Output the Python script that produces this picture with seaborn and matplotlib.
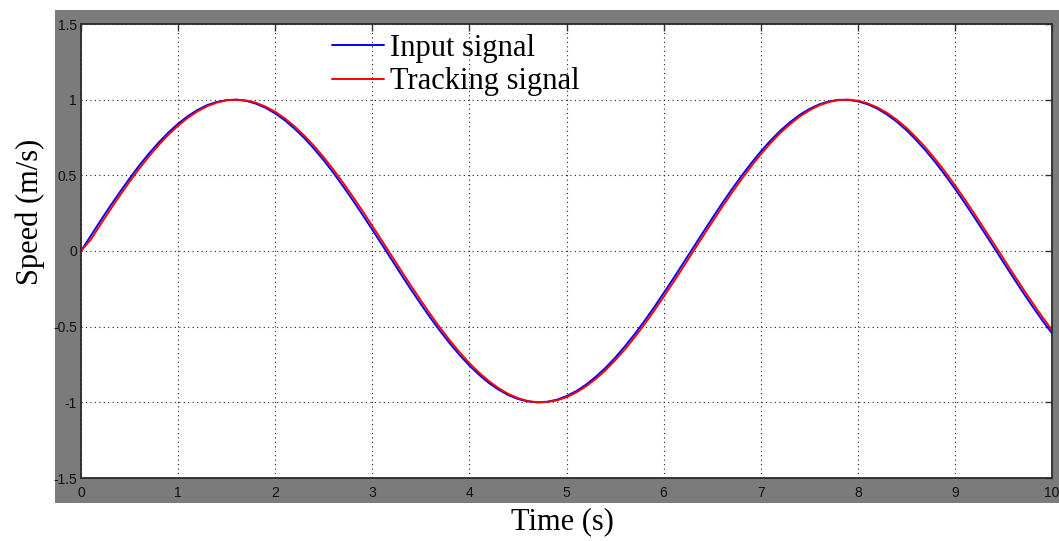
import matplotlib
matplotlib.use("Agg")
import matplotlib.pyplot as plt
from matplotlib.patches import Rectangle
import pandas as pd
import seaborn as sns

# time axis (s) and the two signals
time_s = [0.0, 0.1, 0.2, 0.3, 0.4, 0.5, 0.6, 0.7, 0.8, 0.9,
          1.0, 1.1, 1.2, 1.3, 1.4, 1.5, 1.6, 1.7, 1.8, 1.9,
          2.0, 2.1, 2.2, 2.3, 2.4, 2.5, 2.6, 2.7, 2.8, 2.9,
          3.0, 3.1, 3.2, 3.3, 3.4, 3.5, 3.6, 3.7, 3.8, 3.9,
          4.0, 4.1, 4.2, 4.3, 4.4, 4.5, 4.6, 4.7, 4.8, 4.9,
          5.0, 5.1, 5.2, 5.3, 5.4, 5.5, 5.6, 5.7, 5.8, 5.9,
          6.0, 6.1, 6.2, 6.3, 6.4, 6.5, 6.6, 6.7, 6.8, 6.9,
          7.0, 7.1, 7.2, 7.3, 7.4, 7.5, 7.6, 7.7, 7.8, 7.9,
          8.0, 8.1, 8.2, 8.3, 8.4, 8.5, 8.6, 8.7, 8.8, 8.9,
          9.0, 9.1, 9.2, 9.3, 9.4, 9.5, 9.6, 9.7, 9.8, 9.9, 10.0]
input_signal = [0.000, 0.100, 0.199, 0.296, 0.389, 0.479, 0.565, 0.644, 0.717, 0.783,
                0.841, 0.891, 0.932, 0.964, 0.985, 0.997, 1.000, 0.992, 0.974, 0.946,
                0.909, 0.863, 0.808, 0.746, 0.676, 0.599, 0.516, 0.427, 0.335, 0.239,
                0.141, 0.042, -0.058, -0.158, -0.256, -0.351, -0.443, -0.530, -0.612, -0.688,
                -0.757, -0.818, -0.872, -0.916, -0.952, -0.978, -0.994, -1.000, -0.996, -0.983,
                -0.959, -0.926, -0.884, -0.832, -0.773, -0.706, -0.631, -0.551, -0.465, -0.374,
                -0.279, -0.182, -0.083, 0.017, 0.117, 0.215, 0.312, 0.405, 0.494, 0.578,
                0.657, 0.729, 0.794, 0.850, 0.899, 0.938, 0.968, 0.988, 0.999, 0.999,
                0.989, 0.970, 0.941, 0.902, 0.855, 0.799, 0.734, 0.663, 0.585, 0.501,
                0.412, 0.319, 0.223, 0.125, 0.025, -0.075, -0.174, -0.272, -0.367, -0.458, -0.544]
tracking_signal = [0.000, 0.075, 0.174, 0.272, 0.366, 0.458, 0.544, 0.625, 0.700, 0.768,
                   0.828, 0.880, 0.923, 0.957, 0.981, 0.996, 1.000, 0.995, 0.980, 0.954,
                   0.920, 0.876, 0.823, 0.762, 0.694, 0.619, 0.537, 0.450, 0.359, 0.264,
                   0.166, 0.067, -0.033, -0.133, -0.231, -0.327, -0.420, -0.509, -0.592, -0.670,
                   -0.741, -0.804, -0.859, -0.906, -0.944, -0.972, -0.991, -1.000, -0.998, -0.987,
                   -0.966, -0.935, -0.895, -0.846, -0.789, -0.723, -0.651, -0.572, -0.487, -0.397,
                   -0.303, -0.207, -0.108, -0.008, 0.092, 0.191, 0.288, 0.382, 0.472, 0.558,
                   0.638, 0.712, 0.779, 0.837, 0.888, 0.929, 0.962, 0.984, 0.997, 1.000,
                   0.993, 0.976, 0.949, 0.913, 0.868, 0.814, 0.751, 0.682, 0.605, 0.523,
                   0.435, 0.343, 0.247, 0.149, 0.050, -0.050, -0.150, -0.248, -0.343, -0.435, -0.523]

x_ticks = [0, 1, 2, 3, 4, 5, 6, 7, 8, 9, 10]
y_ticks = [-1.5, -1, -0.5, 0, 0.5, 1, 1.5]
y_tick_labels = ["-1.5", "-1", "-0.5", "0", "0.5", "1", "1.5"]

sns.set_style("white")
plt.rcParams["font.family"] = ["Liberation Sans", "DejaVu Sans"]
plt.rcParams["text.color"] = "black"

df = pd.DataFrame({
    "t": time_s,
    "input": input_signal,
    "tracking": tracking_signal,
})

fig = plt.figure(figsize=(10.59, 5.41), dpi=100)
fig.patch.set_facecolor("white")

# grey scope frame behind the axes
fig.patches.append(Rectangle((55 / 1059, 1 - 503 / 541), 1.0, (503 - 10) / 541,
                             transform=fig.transFigure, facecolor="#7b7b7b",
                             edgecolor="none", zorder=-10))

ax = fig.add_axes([81 / 1059, 1 - 478 / 541, (1052 - 81) / 1059, (478 - 24) / 541])
ax.set_zorder(1)
ax.set_facecolor("white")

sns.lineplot(data=df, x="t", y="input", color="#0000ff", linewidth=1.4,
             label="Input signal", ax=ax)
sns.lineplot(data=df, x="t", y="tracking", color="#ff0000", linewidth=1.4,
             label="Tracking signal", ax=ax)

ax.set_xlim(0, 10)
ax.set_ylim(-1.5, 1.5)
ax.set_xticks(x_ticks)
ax.set_xticklabels([str(v) for v in x_ticks])
ax.set_yticks(y_ticks)
ax.set_yticklabels(y_tick_labels)
ax.tick_params(direction="in", length=5, width=1, color="#333333",
               labelsize=10, labelcolor="#111111", pad=3,
               top=True, right=True)
ax.tick_params(axis="x", pad=6)
ax.grid(True, linestyle=(0, (1, 3)), color="#222222", linewidth=0.8)

for side in ["left", "bottom", "right", "top"]:
    ax.spines[side].set_visible(True)
    ax.spines[side].set_color("#2a2a2a")
    ax.spines[side].set_linewidth(1.3)

serif = ["Liberation Serif", "DejaVu Serif"]
ax.set_xlabel("")
ax.set_ylabel("")
fig.text(562 / 1059, 1 - 522 / 541, "Time (s)", family=serif, fontsize=22,
         ha="center", va="center", color="black")
fig.text(30 / 1059, 1 - 212 / 541, "Speed (m/s)", family=serif, fontsize=22,
         ha="center", va="center", rotation=90, color="black")

leg = ax.legend(loc="upper left", bbox_to_anchor=(0.255, 0.985), frameon=False,
                prop={"family": serif, "size": 22}, handlelength=1.7,
                handletextpad=0.2, labelspacing=0.15, borderpad=0.1,
                borderaxespad=0)
for txt in leg.get_texts():
    txt.set_color("black")

fig.savefig("out.png", dpi=100)
